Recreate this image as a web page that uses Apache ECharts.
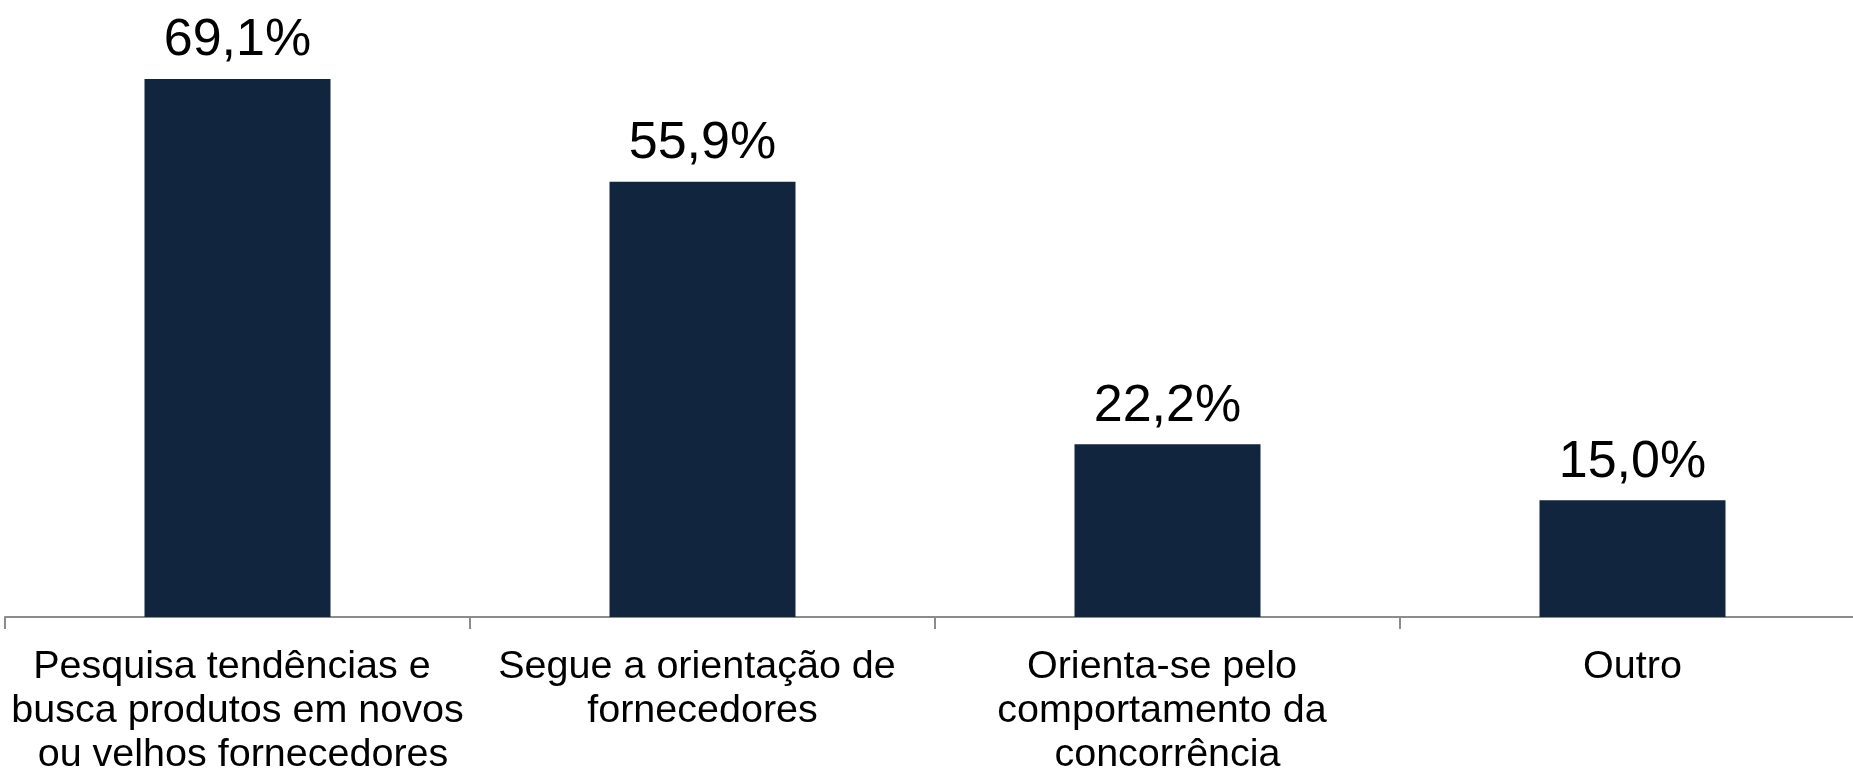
<!DOCTYPE html>
<html>
<head>
<meta charset="utf-8">
<script src="https://cdn.jsdelivr.net/npm/echarts@6/dist/echarts.min.js"></script>
<style>
html,body{margin:0;padding:0;background:#fff;}
#chart{width:1853px;height:771px;}
</style>
</head>
<body>
<div id="chart"></div>
<script>
const categories = [
  'Pesquisa tendências e busca produtos em novos ou velhos fornecedores',
  'Segue a orientação de fornecedores',
  'Orienta-se pelo comportamento da concorrência',
  'Outro'
];
const values = [69.1, 55.9, 22.2, 15.0];

const chart = echarts.init(document.getElementById('chart'), null, {renderer: 'canvas'});
chart.setOption({
  animation: false,
  backgroundColor: '#ffffff',
  grid: {left: 5, right: -12, top: 0, bottom: 154, containLabel: false, outerBoundsMode: 'none'},
  xAxis: {
    type: 'category',
    data: categories,
    axisLine: {show: true, lineStyle: {color: '#8c8c8c', width: 2}},
    axisTick: {show: true, length: 12, lineStyle: {color: '#8c8c8c', width: 2}},
    axisLabel: {
      color: '#000',
      fontFamily: '"Liberation Sans", Arial, sans-serif',
      fontSize: 39.5,
      lineHeight: 44,
      margin: 28,
      width: 458,
      overflow: 'break',
      interval: 0,
      align: 'center'
    }
  },
  yAxis: {
    type: 'value',
    min: 0,
    max: 79.25,
    show: false,
    splitLine: {show: false}
  },
  series: [{
    type: 'bar',
    data: values,
    barWidth: '40%',
    itemStyle: {color: '#12253F'},
    label: {
      show: true,
      position: 'top',
      distance: 12,
      color: '#000',
      fontFamily: '"Liberation Sans", Arial, sans-serif',
      fontSize: 52,
      formatter: p => p.value.toFixed(1).replace('.', ',') + '%'
    }
  }]
});
</script>
</body>
</html>
